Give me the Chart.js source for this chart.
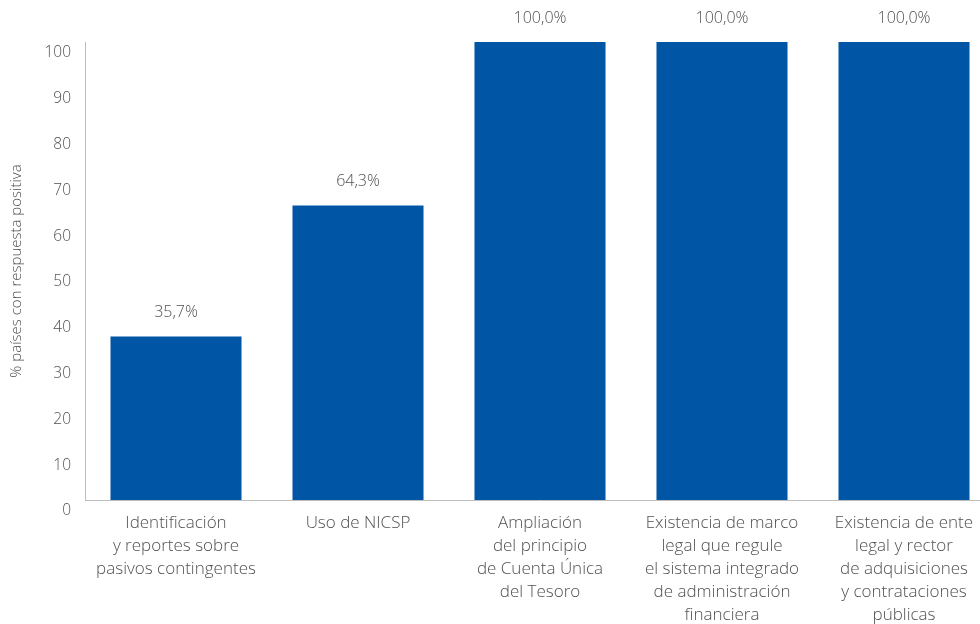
<!DOCTYPE html>
<html>
<head>
<meta charset="utf-8">
<script src="https://cdn.jsdelivr.net/npm/chart.js@4"></script>
<style>
  html, body { margin: 0; padding: 0; background: #fff; overflow: hidden; width: 980px; height: 624px; }
  #wrap { position: absolute; left: 0; top: 0; width: 1000px; height: 624px; }
</style>
</head>
<body>
<div id="wrap"><canvas id="c" width="1000" height="624"></canvas></div>
<script>
const categories = [
  ["Identificación", "y reportes sobre", "pasivos contingentes"],
  ["Uso de NICSP"],
  ["Ampliación", "del principio", "de Cuenta Única", "del Tesoro"],
  ["Existencia de marco", "legal que regule", "el sistema integrado", "de administración", "financiera"],
  ["Existencia de ente", "legal y rector", "de adquisiciones", "y contrataciones", "públicas"]
];
const values = [35.7, 64.3, 100, 100, 100];
const yTicks = [0, 10, 20, 30, 40, 50, 60, 70, 80, 90, 100];
const yTitle = "% países con respuesta positiva";

const FONT = "'Open Sans', 'Noto Sans', sans-serif";
const TXT = "#505050";

const valueLabels = {
  id: "valueLabels",
  afterDatasetsDraw(chart) {
    const ctx = chart.ctx;
    const meta = chart.getDatasetMeta(0);
    ctx.save();
    ctx.font = "300 16px " + FONT;
    ctx.fillStyle = TXT;
    ctx.textAlign = "center";
    ctx.textBaseline = "middle";
    meta.data.forEach((bar, i) => {
      const txt = values[i].toFixed(1).replace(".", ",") + "%";
      ctx.fillText(txt, bar.x, bar.y - 24);
    });
    ctx.restore();
  }
};

new Chart(document.getElementById("c"), {
  type: "bar",
  data: {
    labels: categories,
    datasets: [{
      data: values,
      backgroundColor: "#0155A5",
      borderWidth: 0,
      categoryPercentage: 1,
      barPercentage: 0.72
    }]
  },
  options: {
    responsive: false,
    animation: false,
    events: [],
    layout: { padding: { top: 42, right: 5, left: 0, bottom: 0 } },
    plugins: { legend: { display: false }, tooltip: { enabled: false } },
    scales: {
      x: {
        grid: { display: false, drawTicks: false },
        border: { display: true, color: "#bdbdbd", width: 1 },
        ticks: {
          color: TXT,
          font: { family: FONT, size: 17, weight: 300, lineHeight: 1.35 },
          padding: 12,
          maxRotation: 0,
          autoSkip: false
        },
        afterFit(s) { s.height = 124; }
      },
      y: {
        min: 0,
        max: 100,
        afterBuildTicks(s) { s.ticks = yTicks.map(v => ({ value: v })); },
        grid: { display: false, drawTicks: false },
        border: { display: true, color: "#bdbdbd", width: 1 },
        ticks: {
          color: TXT,
          font: { family: FONT, size: 15.5, weight: 300 },
          padding: 14,
          labelOffset: 11
        },
        title: {
          display: true,
          text: yTitle,
          color: TXT,
          font: { family: FONT, size: 15, weight: 300 },
          padding: { top: 8, bottom: 0 }
        },
        afterFit(s) { s.width = 85; }
      }
    }
  },
  plugins: [valueLabels]
});
</script>
</body>
</html>
